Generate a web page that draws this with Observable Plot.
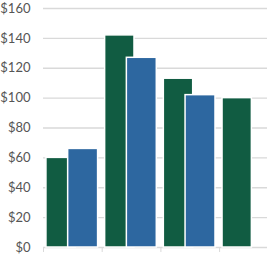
<!DOCTYPE html>
<html>
<head>
<meta charset="utf-8">
<script src="https://cdn.jsdelivr.net/npm/d3@7"></script>
<script src="https://cdn.jsdelivr.net/npm/@observablehq/plot@0.6"></script>
<style>
  html, body { margin: 0; padding: 0; background: #fff; }
  #chart svg { display: block; }
</style>
</head>
<body>
<div id="chart"></div>
<script>
const groups = [0, 1, 2, 3];
const greenValues = [60, 142, 113, 100];
const blueValues = [66, 127, 102, null];
const yTicks = [0, 20, 40, 60, 80, 100, 120, 140, 160];

const green = groups.map((g, i) => ({g, v: greenValues[i]}));
const blue = groups.map((g, i) => ({g, v: blueValues[i]})).filter(d => d.v != null);

const chart = Plot.plot({
  width: 267,
  height: 255,
  marginLeft: 43,
  marginRight: 0,
  marginTop: 8,
  marginBottom: 8,
  style: {fontFamily: "Lato, sans-serif", fontSize: "13px", color: "#555", background: "#fff"},
  x: {domain: [0, 3.816], axis: null},
  y: {domain: [0, 160], axis: null},
  marks: [
    Plot.gridY(yTicks, {stroke: "#d9d9d9", strokeOpacity: 1, strokeWidth: 1.3}),
    Plot.axisY(yTicks, {tickSize: 0, tickPadding: 13, tickFormat: d => "$" + d, fill: "#555", fontSize: 13, label: null}),
    Plot.axisX(groups, {tickSize: 5, tickFormat: () => "", stroke: "#d9d9d9", label: null}),
    Plot.rectY(green, {x1: d => d.g + 0.05, x2: d => d.g + 0.55, y: "v", fill: "#115c42", stroke: "#fff", strokeWidth: 1.5}),
    Plot.rectY(blue, {x1: d => d.g + 0.42, x2: d => d.g + 0.93, y: "v", fill: "#2d67a0", stroke: "#fff", strokeWidth: 1.5})
  ]
});
chart.querySelectorAll('[aria-label="x-axis tick label"]').forEach(n => n.remove());
document.getElementById("chart").appendChild(chart);
</script>
</body>
</html>
